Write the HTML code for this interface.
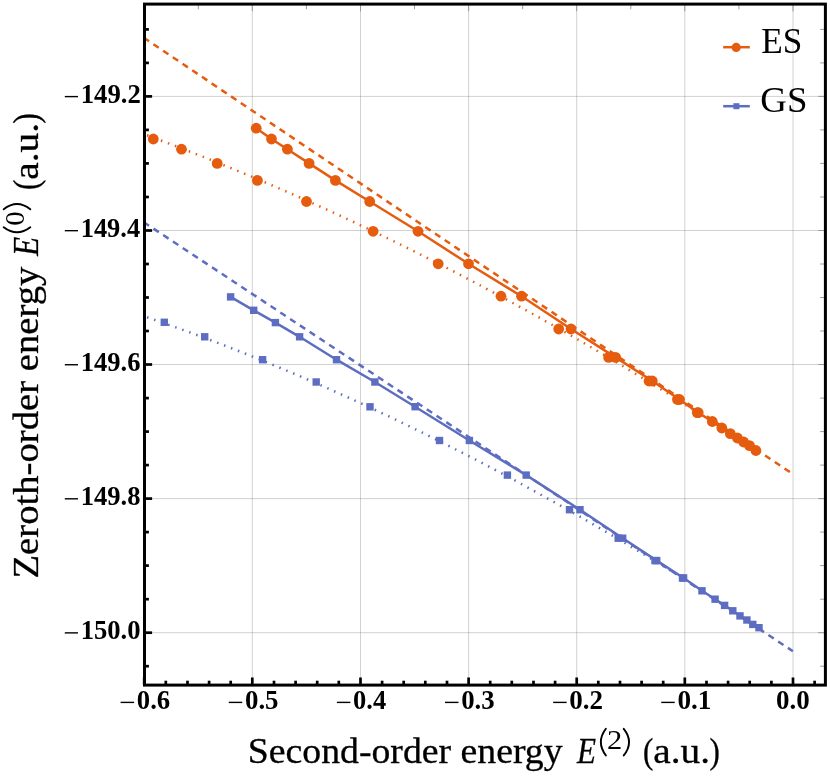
<!DOCTYPE html><html><head><meta charset="utf-8"><title>plot</title><style>html,body{margin:0;padding:0;background:#fff}svg{display:block}text{font-family:"Liberation Serif",serif}</style></head><body>
<svg width="830" height="780" viewBox="0 0 830 780" style="will-change:transform">
<rect width="830" height="780" fill="#fff"/>
<g stroke="#666" stroke-opacity="0.5" stroke-width="0.6">
<line x1="252.3" y1="4.1" x2="252.3" y2="685.1"/>
<line x1="360.5" y1="4.1" x2="360.5" y2="685.1"/>
<line x1="468.6" y1="4.1" x2="468.6" y2="685.1"/>
<line x1="576.7" y1="4.1" x2="576.7" y2="685.1"/>
<line x1="684.8" y1="4.1" x2="684.8" y2="685.1"/>
<line x1="793.0" y1="4.1" x2="793.0" y2="685.1"/>
<line x1="144.5" y1="96.4" x2="825.4" y2="96.4"/>
<line x1="144.5" y1="230.5" x2="825.4" y2="230.5"/>
<line x1="144.5" y1="364.5" x2="825.4" y2="364.5"/>
<line x1="144.5" y1="498.6" x2="825.4" y2="498.6"/>
<line x1="144.5" y1="632.7" x2="825.4" y2="632.7"/>
</g>
<clipPath id="c"><rect x="144.5" y="4.1" width="680.9" height="681.0"/></clipPath>
<g clip-path="url(#c)" fill="none" stroke-width="2.5">
<path d="M143.7,37.66 L792.9,474.1" stroke="#E65C0E" stroke-dasharray="6.4 5.30"/>
<path d="M143.7,222.17 L792.9,651.2" stroke="#5D6DC1" stroke-dasharray="6.4 5.30"/>
<path d="M140.0,132.7 L149.5,136.2 L158.9,139.7 L168.4,143.3 L177.8,146.9 L187.3,150.6 L196.7,154.3 L206.2,158.0 L215.7,161.8 L225.1,165.7 L234.6,169.5 L244.0,173.5 L253.5,177.4 L262.9,181.4 L272.4,185.5 L281.9,189.6 L291.3,193.7 L300.8,197.9 L310.2,202.1 L319.7,206.4 L329.2,210.7 L338.6,215.0 L348.1,219.4 L357.5,223.9 L367.0,228.3 L376.4,232.9 L385.9,237.4 L395.4,242.0 L404.8,246.7 L414.3,251.4 L423.7,256.1 L433.2,260.9 L442.6,265.8 L452.1,270.6 L461.6,275.5 L471.0,280.5 L480.5,285.5 L489.9,290.6 L499.4,295.6 L508.8,300.8 L518.3,306.0 L527.8,311.2 L537.2,316.4 L546.7,321.8 L556.1,327.1 L565.6,332.5 L575.1,337.9 L584.5,343.4 L594.0,349.0 L603.4,354.5 L612.9,360.2 L622.3,365.8 L631.8,371.5 L641.3,377.3 L650.7,383.1 L660.2,388.9 L669.6,394.8 L679.1,400.7 L688.5,406.7 L698.0,412.7" stroke="#E65C0E" stroke-dasharray="1.5 5.95"/>
<path d="M140.0,314.8 L149.2,318.0 L158.4,321.2 L167.6,324.4 L176.8,327.7 L186.0,331.0 L195.2,334.4 L204.4,337.8 L213.6,341.3 L222.8,344.8 L232.0,348.4 L241.2,352.0 L250.4,355.7 L259.6,359.4 L268.8,363.2 L278.1,367.0 L287.3,370.8 L296.5,374.7 L305.7,378.7 L314.9,382.7 L324.1,386.7 L333.3,390.8 L342.5,394.9 L351.7,399.1 L360.9,403.3 L370.1,407.6 L379.3,411.9 L388.5,416.2 L397.7,420.6 L406.9,425.1 L416.1,429.6 L425.3,434.1 L434.5,438.7 L443.7,443.3 L452.9,448.0 L462.1,452.7 L471.3,457.4 L480.5,462.2 L489.7,467.0 L498.9,471.9 L508.1,476.8 L517.3,481.8 L526.5,486.8 L535.7,491.9 L544.9,497.0 L554.2,502.1 L563.4,507.3 L572.6,512.5 L581.8,517.7 L591.0,523.0 L600.2,528.4 L609.4,533.8 L618.6,539.2 L627.8,544.7 L637.0,550.2 L646.2,555.7 L655.4,561.3 L664.6,566.9 L673.8,572.6 L683.0,578.3" stroke="#5D6DC1" stroke-dasharray="1.5 5.95"/>
<path d="M256.2,128.2 L271.5,139.0 L287.4,149.2 L309.1,163.4 L335.4,180.4 L369.7,201.5 L418.0,231.3 L468.5,263.8 L521.5,296.2 L571.0,329.0 L615.6,357.4 L652.3,381.0 L679.5,399.5 L698.2,412.6 L712.3,421.5 L721.8,428.0 L730.3,433.6 L737.4,438.0 L743.6,442.0 L749.5,445.6 L755.9,450.5" stroke="#E65C0E"/>
<path d="M230.6,296.9 L253.7,310.3 L275.4,322.6 L299.6,336.8 L336.5,359.7 L374.9,382.0 L415.1,406.7 L469.4,440.5 L526.2,475.1 L580.0,509.7 L622.7,538.2 L656.7,560.6 L683.6,578.0 L702.0,590.8 L715.1,599.2 L724.6,605.4 L732.8,610.8 L740.0,615.9 L746.9,620.0 L752.8,624.4 L759.0,627.7" stroke="#5D6DC1"/>
</g>
<g clip-path="url(#c)" fill="#E65C0E">
<circle cx="153.3" cy="139" r="5.4"/>
<circle cx="181.5" cy="149.2" r="5.4"/>
<circle cx="217.2" cy="163.4" r="5.4"/>
<circle cx="257.4" cy="180.4" r="5.4"/>
<circle cx="306.5" cy="201.5" r="5.4"/>
<circle cx="373.1" cy="231.3" r="5.4"/>
<circle cx="438.2" cy="263.8" r="5.4"/>
<circle cx="501" cy="296.2" r="5.4"/>
<circle cx="558.7" cy="329" r="5.4"/>
<circle cx="608.7" cy="357.4" r="5.4"/>
<circle cx="649" cy="381" r="5.4"/>
<circle cx="677.5" cy="399.5" r="5.4"/>
<circle cx="697.3" cy="412.6" r="5.4"/>
<circle cx="256.2" cy="128.2" r="5.4"/>
<circle cx="271.5" cy="139" r="5.4"/>
<circle cx="287.4" cy="149.2" r="5.4"/>
<circle cx="309.1" cy="163.4" r="5.4"/>
<circle cx="335.4" cy="180.4" r="5.4"/>
<circle cx="369.7" cy="201.5" r="5.4"/>
<circle cx="418" cy="231.3" r="5.4"/>
<circle cx="468.5" cy="263.8" r="5.4"/>
<circle cx="521.5" cy="296.2" r="5.4"/>
<circle cx="571" cy="329" r="5.4"/>
<circle cx="615.6" cy="357.4" r="5.4"/>
<circle cx="652.3" cy="381" r="5.4"/>
<circle cx="679.5" cy="399.5" r="5.4"/>
<circle cx="698.2" cy="412.6" r="5.4"/>
<circle cx="712.3" cy="421.5" r="5.4"/>
<circle cx="721.8" cy="428" r="5.4"/>
<circle cx="730.3" cy="433.6" r="5.4"/>
<circle cx="737.4" cy="438" r="5.4"/>
<circle cx="743.6" cy="442" r="5.4"/>
<circle cx="749.5" cy="445.6" r="5.4"/>
<circle cx="755.9" cy="450.5" r="5.4"/>
</g>
<g clip-path="url(#c)" fill="#5D6DC1">
<rect x="160.6" y="318.6" width="7.4" height="7.4"/>
<rect x="201.0" y="333.1" width="7.4" height="7.4"/>
<rect x="258.9" y="356.0" width="7.4" height="7.4"/>
<rect x="312.5" y="378.3" width="7.4" height="7.4"/>
<rect x="366.3" y="403.1" width="7.4" height="7.4"/>
<rect x="435.8" y="436.8" width="7.4" height="7.4"/>
<rect x="503.7" y="471.4" width="7.4" height="7.4"/>
<rect x="565.8" y="506.0" width="7.4" height="7.4"/>
<rect x="614.5" y="534.5" width="7.4" height="7.4"/>
<rect x="651.3" y="556.9" width="7.4" height="7.4"/>
<rect x="678.8" y="574.3" width="7.4" height="7.4"/>
<rect x="226.9" y="293.2" width="7.4" height="7.4"/>
<rect x="250.0" y="306.6" width="7.4" height="7.4"/>
<rect x="271.7" y="318.9" width="7.4" height="7.4"/>
<rect x="295.9" y="333.1" width="7.4" height="7.4"/>
<rect x="332.8" y="356.0" width="7.4" height="7.4"/>
<rect x="371.2" y="378.3" width="7.4" height="7.4"/>
<rect x="411.4" y="403.0" width="7.4" height="7.4"/>
<rect x="465.7" y="436.8" width="7.4" height="7.4"/>
<rect x="522.5" y="471.4" width="7.4" height="7.4"/>
<rect x="576.3" y="506.0" width="7.4" height="7.4"/>
<rect x="619.0" y="534.5" width="7.4" height="7.4"/>
<rect x="653.0" y="556.9" width="7.4" height="7.4"/>
<rect x="679.9" y="574.3" width="7.4" height="7.4"/>
<rect x="698.3" y="587.1" width="7.4" height="7.4"/>
<rect x="711.4" y="595.5" width="7.4" height="7.4"/>
<rect x="720.9" y="601.7" width="7.4" height="7.4"/>
<rect x="729.1" y="607.1" width="7.4" height="7.4"/>
<rect x="736.3" y="612.2" width="7.4" height="7.4"/>
<rect x="743.2" y="616.3" width="7.4" height="7.4"/>
<rect x="749.1" y="620.7" width="7.4" height="7.4"/>
<rect x="755.3" y="624.0" width="7.4" height="7.4"/>
</g>
<g stroke="#000" stroke-width="2.7">
<line x1="144.5" y1="29.4" x2="148.9" y2="29.4"/>
<line x1="144.5" y1="62.9" x2="148.9" y2="62.9"/>
<line x1="144.5" y1="96.4" x2="152.1" y2="96.4"/>
<line x1="144.5" y1="129.9" x2="148.9" y2="129.9"/>
<line x1="144.5" y1="163.4" x2="148.9" y2="163.4"/>
<line x1="144.5" y1="197.0" x2="148.9" y2="197.0"/>
<line x1="144.5" y1="230.5" x2="152.1" y2="230.5"/>
<line x1="144.5" y1="264.0" x2="148.9" y2="264.0"/>
<line x1="144.5" y1="297.5" x2="148.9" y2="297.5"/>
<line x1="144.5" y1="331.0" x2="148.9" y2="331.0"/>
<line x1="144.5" y1="364.5" x2="152.1" y2="364.5"/>
<line x1="144.5" y1="398.1" x2="148.9" y2="398.1"/>
<line x1="144.5" y1="431.6" x2="148.9" y2="431.6"/>
<line x1="144.5" y1="465.1" x2="148.9" y2="465.1"/>
<line x1="144.5" y1="498.6" x2="152.1" y2="498.6"/>
<line x1="144.5" y1="532.1" x2="148.9" y2="532.1"/>
<line x1="144.5" y1="565.6" x2="148.9" y2="565.6"/>
<line x1="144.5" y1="599.2" x2="148.9" y2="599.2"/>
<line x1="144.5" y1="632.7" x2="152.1" y2="632.7"/>
<line x1="144.5" y1="666.2" x2="148.9" y2="666.2"/>
<line x1="144.2" y1="685.1" x2="144.2" y2="677.5"/>
<line x1="165.8" y1="685.1" x2="165.8" y2="680.7"/>
<line x1="187.5" y1="685.1" x2="187.5" y2="680.7"/>
<line x1="209.1" y1="685.1" x2="209.1" y2="680.7"/>
<line x1="230.7" y1="685.1" x2="230.7" y2="680.7"/>
<line x1="252.3" y1="685.1" x2="252.3" y2="677.5"/>
<line x1="274.0" y1="685.1" x2="274.0" y2="680.7"/>
<line x1="295.6" y1="685.1" x2="295.6" y2="680.7"/>
<line x1="317.2" y1="685.1" x2="317.2" y2="680.7"/>
<line x1="338.8" y1="685.1" x2="338.8" y2="680.7"/>
<line x1="360.5" y1="685.1" x2="360.5" y2="677.5"/>
<line x1="382.1" y1="685.1" x2="382.1" y2="680.7"/>
<line x1="403.7" y1="685.1" x2="403.7" y2="680.7"/>
<line x1="425.3" y1="685.1" x2="425.3" y2="680.7"/>
<line x1="447.0" y1="685.1" x2="447.0" y2="680.7"/>
<line x1="468.6" y1="685.1" x2="468.6" y2="677.5"/>
<line x1="490.2" y1="685.1" x2="490.2" y2="680.7"/>
<line x1="511.8" y1="685.1" x2="511.8" y2="680.7"/>
<line x1="533.5" y1="685.1" x2="533.5" y2="680.7"/>
<line x1="555.1" y1="685.1" x2="555.1" y2="680.7"/>
<line x1="576.7" y1="685.1" x2="576.7" y2="677.5"/>
<line x1="598.3" y1="685.1" x2="598.3" y2="680.7"/>
<line x1="620.0" y1="685.1" x2="620.0" y2="680.7"/>
<line x1="641.6" y1="685.1" x2="641.6" y2="680.7"/>
<line x1="663.2" y1="685.1" x2="663.2" y2="680.7"/>
<line x1="684.8" y1="685.1" x2="684.8" y2="677.5"/>
<line x1="706.5" y1="685.1" x2="706.5" y2="680.7"/>
<line x1="728.1" y1="685.1" x2="728.1" y2="680.7"/>
<line x1="749.7" y1="685.1" x2="749.7" y2="680.7"/>
<line x1="771.4" y1="685.1" x2="771.4" y2="680.7"/>
<line x1="793.0" y1="685.1" x2="793.0" y2="677.5"/>
<line x1="814.6" y1="685.1" x2="814.6" y2="680.7"/>
</g>
<g stroke="#909090" stroke-width="0.9">
<line x1="825.4" y1="29.4" x2="820.1999999999999" y2="29.4"/>
<line x1="825.4" y1="62.9" x2="820.1999999999999" y2="62.9"/>
<line x1="825.4" y1="96.4" x2="818.1999999999999" y2="96.4"/>
<line x1="825.4" y1="129.9" x2="820.1999999999999" y2="129.9"/>
<line x1="825.4" y1="163.4" x2="820.1999999999999" y2="163.4"/>
<line x1="825.4" y1="197.0" x2="820.1999999999999" y2="197.0"/>
<line x1="825.4" y1="230.5" x2="818.1999999999999" y2="230.5"/>
<line x1="825.4" y1="264.0" x2="820.1999999999999" y2="264.0"/>
<line x1="825.4" y1="297.5" x2="820.1999999999999" y2="297.5"/>
<line x1="825.4" y1="331.0" x2="820.1999999999999" y2="331.0"/>
<line x1="825.4" y1="364.5" x2="818.1999999999999" y2="364.5"/>
<line x1="825.4" y1="398.1" x2="820.1999999999999" y2="398.1"/>
<line x1="825.4" y1="431.6" x2="820.1999999999999" y2="431.6"/>
<line x1="825.4" y1="465.1" x2="820.1999999999999" y2="465.1"/>
<line x1="825.4" y1="498.6" x2="818.1999999999999" y2="498.6"/>
<line x1="825.4" y1="532.1" x2="820.1999999999999" y2="532.1"/>
<line x1="825.4" y1="565.6" x2="820.1999999999999" y2="565.6"/>
<line x1="825.4" y1="599.2" x2="820.1999999999999" y2="599.2"/>
<line x1="825.4" y1="632.7" x2="818.1999999999999" y2="632.7"/>
<line x1="825.4" y1="666.2" x2="820.1999999999999" y2="666.2"/>
<line x1="144.2" y1="4.1" x2="144.2" y2="11.3"/>
<line x1="198.3" y1="4.1" x2="198.3" y2="9.3"/>
<line x1="252.3" y1="4.1" x2="252.3" y2="11.3"/>
<line x1="306.4" y1="4.1" x2="306.4" y2="9.3"/>
<line x1="360.5" y1="4.1" x2="360.5" y2="11.3"/>
<line x1="414.5" y1="4.1" x2="414.5" y2="9.3"/>
<line x1="468.6" y1="4.1" x2="468.6" y2="11.3"/>
<line x1="522.7" y1="4.1" x2="522.7" y2="9.3"/>
<line x1="576.7" y1="4.1" x2="576.7" y2="11.3"/>
<line x1="630.8" y1="4.1" x2="630.8" y2="9.3"/>
<line x1="684.8" y1="4.1" x2="684.8" y2="11.3"/>
<line x1="738.9" y1="4.1" x2="738.9" y2="9.3"/>
<line x1="793.0" y1="4.1" x2="793.0" y2="11.3"/>
</g>
<rect x="144.5" y="4.1" width="680.9" height="681.0" fill="none" stroke="#000" stroke-width="3"/>
<line x1="64.80" y1="96.60" x2="78.00" y2="96.60" stroke="#000" stroke-width="1.4"/>
<text x="80.65" y="102.90" font-size="27.4" font-weight="bold" textLength="60.17" lengthAdjust="spacingAndGlyphs">149.2</text>
<line x1="64.80" y1="230.67" x2="78.00" y2="230.67" stroke="#000" stroke-width="1.4"/>
<text x="80.68" y="236.97" font-size="27.4" font-weight="bold" textLength="59.46" lengthAdjust="spacingAndGlyphs">149.4</text>
<line x1="64.80" y1="364.74" x2="78.00" y2="364.74" stroke="#000" stroke-width="1.4"/>
<text x="80.67" y="371.04" font-size="27.4" font-weight="bold" textLength="59.76" lengthAdjust="spacingAndGlyphs">149.6</text>
<line x1="64.80" y1="498.81" x2="78.00" y2="498.81" stroke="#000" stroke-width="1.4"/>
<text x="80.66" y="505.11" font-size="27.4" font-weight="bold" textLength="59.86" lengthAdjust="spacingAndGlyphs">149.8</text>
<line x1="64.80" y1="632.88" x2="78.00" y2="632.88" stroke="#000" stroke-width="1.4"/>
<text x="80.66" y="639.18" font-size="27.4" font-weight="bold" textLength="59.96" lengthAdjust="spacingAndGlyphs">150.0</text>
<line x1="120.60" y1="702.40" x2="134.10" y2="702.40" stroke="#000" stroke-width="1.4"/>
<text x="136.82" y="709.30" font-size="27.4" font-weight="bold" textLength="33.41" lengthAdjust="spacingAndGlyphs">0.6</text>
<line x1="228.73" y1="702.40" x2="242.23" y2="702.40" stroke="#000" stroke-width="1.4"/>
<text x="244.95" y="709.30" font-size="27.4" font-weight="bold" textLength="33.61" lengthAdjust="spacingAndGlyphs">0.5</text>
<line x1="336.86" y1="702.40" x2="350.36" y2="702.40" stroke="#000" stroke-width="1.4"/>
<text x="353.09" y="709.30" font-size="27.4" font-weight="bold" textLength="33.10" lengthAdjust="spacingAndGlyphs">0.4</text>
<line x1="444.99" y1="702.40" x2="458.49" y2="702.40" stroke="#000" stroke-width="1.4"/>
<text x="461.21" y="709.30" font-size="27.4" font-weight="bold" textLength="33.51" lengthAdjust="spacingAndGlyphs">0.3</text>
<line x1="553.12" y1="702.40" x2="566.62" y2="702.40" stroke="#000" stroke-width="1.4"/>
<text x="569.33" y="709.30" font-size="27.4" font-weight="bold" textLength="33.82" lengthAdjust="spacingAndGlyphs">0.2</text>
<line x1="661.25" y1="702.40" x2="674.75" y2="702.40" stroke="#000" stroke-width="1.4"/>
<text x="677.46" y="709.30" font-size="27.4" font-weight="bold" textLength="34.04" lengthAdjust="spacingAndGlyphs">0.1</text>
<text x="776.10" y="709.30" font-size="27.4" font-weight="bold" textLength="33.72" lengthAdjust="spacingAndGlyphs">0.0</text>
<g transform="translate(250.4,763)" stroke="#000" stroke-width="0.3">
<text x="-2.56" y="0.00" font-size="35.4" textLength="314.68" lengthAdjust="spacingAndGlyphs">Second-order energy</text>
<text x="326.65" y="0.00" font-size="35.4" font-style="italic" textLength="19.00" lengthAdjust="spacingAndGlyphs">E</text>
<path d="M355.45,-34.20 Q345.45,-20.90 355.45,-7.60" fill="none" stroke="#000" stroke-width="1.9" stroke-linecap="round"/>
<text x="356.61" y="-14.00" font-size="26.3" textLength="15.28" lengthAdjust="spacingAndGlyphs" stroke="none">2</text>
<path d="M373.35,-34.20 Q383.95,-20.90 373.35,-7.60" fill="none" stroke="#000" stroke-width="1.9" stroke-linecap="round"/>
<text x="392.60" y="0.00" font-size="35.4" textLength="10.35" lengthAdjust="spacingAndGlyphs">(</text>
<text x="402.97" y="0.00" font-size="35.4" textLength="56.70" lengthAdjust="spacingAndGlyphs">a.u.</text>
<text x="459.23" y="0.00" font-size="35.4" textLength="10.36" lengthAdjust="spacingAndGlyphs">)</text>
</g>
<g transform="translate(37.9,576.7) rotate(-90)" stroke="#000" stroke-width="0.3">
<text x="-1.86" y="0.00" font-size="35.4" textLength="311.93" lengthAdjust="spacingAndGlyphs">Zeroth-order energy</text>
<text x="320.65" y="0.00" font-size="35.4" font-style="italic" textLength="19.00" lengthAdjust="spacingAndGlyphs">E</text>
<path d="M349.45,-34.20 Q339.45,-20.90 349.45,-7.60" fill="none" stroke="#000" stroke-width="1.9" stroke-linecap="round"/>
<text x="350.90" y="-14.00" font-size="26.3" textLength="14.45" lengthAdjust="spacingAndGlyphs" stroke="none">0</text>
<path d="M367.35,-34.20 Q377.95,-20.90 367.35,-7.60" fill="none" stroke="#000" stroke-width="1.9" stroke-linecap="round"/>
<text x="386.60" y="0.00" font-size="35.4" textLength="10.35" lengthAdjust="spacingAndGlyphs">(</text>
<text x="396.97" y="0.00" font-size="35.4" textLength="56.70" lengthAdjust="spacingAndGlyphs">a.u.</text>
<text x="453.23" y="0.00" font-size="35.4" textLength="10.36" lengthAdjust="spacingAndGlyphs">)</text>
</g>
<text x="761.31" y="53.10" font-size="35.4" textLength="41.09" lengthAdjust="spacingAndGlyphs">ES</text>
<text x="760.34" y="111.80" font-size="35.4" textLength="47.10" lengthAdjust="spacingAndGlyphs">GS</text>
<line x1="723.2" y1="47.2" x2="749.8" y2="47.2" stroke="#E65C0E" stroke-width="2.5"/><circle cx="736.2" cy="47.4" r="4.6" fill="#E65C0E"/>
<line x1="723.2" y1="106.2" x2="749.8" y2="106.2" stroke="#5D6DC1" stroke-width="2.5"/><rect x="733.4" y="103.2" width="6" height="6" fill="#5D6DC1"/>
</svg></body></html>
